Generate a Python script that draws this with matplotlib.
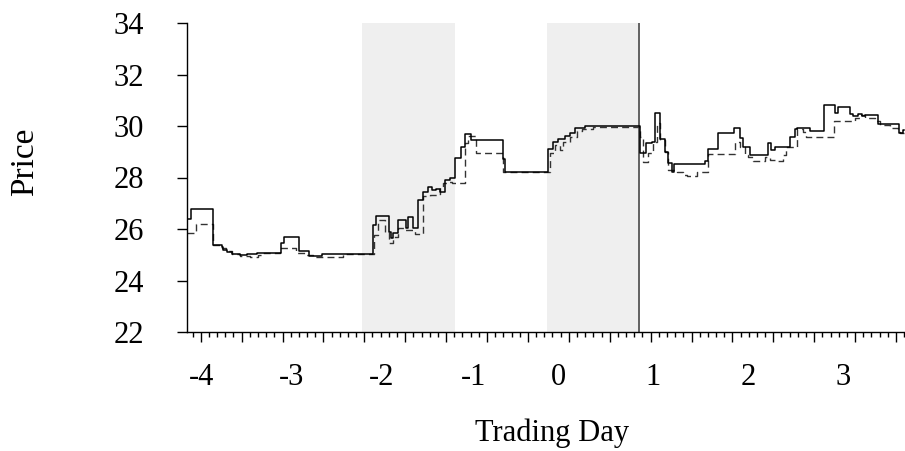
import matplotlib
matplotlib.use("Agg")
import matplotlib.pyplot as plt
from matplotlib.ticker import MultipleLocator

# x in hours of trading time (one major tick per hour)
solid_x = [-0.33, -0.24, 0.31, 0.51, 0.55, 0.64, 0.77, 0.96, 1.12, 1.37, 1.96, 2.04, 2.41, 2.66, 2.96,
           4.21, 4.29, 4.61, 4.65, 4.70, 4.83, 5.02, 5.08, 5.20, 5.32, 5.43, 5.56, 5.65, 5.75, 5.85,
           5.97, 6.10, 6.22, 6.36, 6.46, 6.60, 7.38, 7.44, 8.50, 8.62, 8.74, 8.91, 9.03, 9.15, 9.40,
           10.74, 10.89, 11.03, 11.11, 11.23, 11.35, 11.43, 11.52, 11.56, 12.33, 12.41, 12.66, 13.04,
           13.19, 13.25, 13.43, 13.88, 13.94, 14.04, 14.41, 14.53, 14.57, 14.90, 15.24, 15.51, 15.57,
           15.88, 15.96, 16.08, 16.16, 16.24, 16.57, 17.08, 17.17, 17.20]
solid_y = [26.38, 26.76, 25.38, 25.31, 25.18, 25.12, 25.04, 24.99, 25.02, 25.08, 25.47, 25.68, 25.14, 24.95, 25.02,
           26.16, 26.50, 25.90, 25.64, 25.85, 26.35, 26.03, 26.48, 26.03, 27.13, 27.45, 27.64, 27.50, 27.57, 27.45,
           27.90, 28.00, 28.74, 29.20, 29.69, 29.46, 28.70, 28.22, 29.10, 29.39, 29.50, 29.60, 29.74, 29.91, 30.00,
           28.94, 29.33, 29.39, 30.49, 29.50, 29.00, 28.55, 28.23, 28.52, 28.64, 29.10, 29.71, 29.91,
           29.52, 29.20, 28.87, 29.35, 29.07, 29.17, 29.59, 29.87, 29.91, 29.82, 30.82, 30.49, 30.75,
           30.47, 30.40, 30.47, 30.40, 30.43, 30.08, 29.71, 29.85, 29.85]

dashed_x = [-0.33, -0.11, 0.31, 0.52, 0.62, 0.77, 0.96, 1.21, 1.40, 1.50, 1.94, 2.33, 2.55, 2.75, 3.48,
            4.23, 4.34, 4.51, 4.61, 4.71, 4.83, 5.00, 5.24, 5.43, 5.60, 5.78, 5.85, 5.92, 6.07, 6.14,
            6.46, 6.54, 6.73, 7.38, 8.54, 8.66, 8.78, 8.85, 9.03, 9.19, 9.32, 9.59, 10.74, 10.81,
            10.94, 11.06, 11.15, 11.23, 11.35, 11.43, 11.64, 11.80, 11.88, 12.13, 12.41, 13.06, 13.19,
            13.31, 13.39, 13.50, 13.80, 13.92, 14.04, 14.24, 14.31, 14.59, 14.73, 14.81, 15.48, 16.00,
            16.12, 16.24, 16.49, 16.61, 16.85, 17.06, 17.10, 17.20]
dashed_y = [25.86, 26.19, 25.38, 25.28, 25.15, 25.02, 24.95, 24.93, 25.00, 25.05, 25.25, 25.06, 24.98, 24.92, 25.02,
            25.77, 26.35, 25.90, 25.47, 25.70, 26.03, 25.97, 25.79, 27.28, 27.32, 27.36, 27.64, 27.80, 27.84, 27.80,
            29.33, 29.60, 28.96, 28.22, 28.94, 29.26, 29.07, 29.39, 29.59, 29.82, 29.90, 29.97, 29.59, 28.60,
            28.94, 29.39, 30.10, 29.46, 29.00, 28.30, 28.23, 28.10, 28.06, 28.23, 28.91, 29.39, 29.20,
            28.87, 28.81, 28.64, 28.80, 28.69, 28.65, 28.87, 29.17, 29.87, 29.78, 29.56, 30.21, 30.30,
            30.43, 30.30, 30.21, 30.04, 29.91, 29.78, 29.71, 29.71]

shade_spans = [(3.94, 6.22), (8.47, 10.70)]
event_x = 10.72

day_label_pos = [0.03, 2.23, 4.43, 6.66, 8.74, 11.06, 13.38, 15.70]
day_labels = ["-4", "-3", "-2", "-1", "0", "1", "2", "3"]

plt.rcParams['font.family'] = ['Liberation Serif', 'DejaVu Serif']

fig = plt.figure(figsize=(9.05, 4.51), dpi=100)
ax = fig.add_axes([187/905, 119/451, 718/905, 309/451])

for a, b in shade_spans:
    ax.axvspan(a, b, color='#efefef', lw=0, zorder=0)
ax.axvline(event_x, color='#555555', lw=1.3, zorder=1)

ax.plot(dashed_x, dashed_y, drawstyle='steps-post', color='#333333', lw=1.0,
        dashes=(5, 3), zorder=2)
ax.plot(solid_x, solid_y, drawstyle='steps-post', color='black', lw=1.1, zorder=3)

ax.set_xlim(-0.335, 17.22)
ax.set_ylim(22, 34)
ax.set_yticks(range(22, 35, 2))
ax.xaxis.set_major_locator(MultipleLocator(1))
ax.xaxis.set_minor_locator(MultipleLocator(0.2))
ax.tick_params(axis='x', which='major', length=7.2, width=1.0, labelbottom=False)
ax.tick_params(axis='x', which='minor', length=3.6, width=1.0)
ax.tick_params(axis='y', which='major', length=7.2, width=1.0, labelsize=22, pad=24)

for s in ['top', 'right']:
    ax.spines[s].set_visible(False)
for s in ['left', 'bottom']:
    ax.spines[s].set_linewidth(1.0)

sec = ax.secondary_xaxis('bottom')
sec.set_xticks(day_label_pos)
sec.set_xticklabels(day_labels)
sec.tick_params(length=0, labelsize=22, pad=22)
sec.spines['bottom'].set_visible(False)

ax.set_ylabel('Price', fontsize=24, va='center')
ax.yaxis.set_label_coords(-0.2256, 0.55)
ax.set_xlabel('Trading Day', fontsize=22, va='center')
ax.xaxis.set_label_coords(0.508, -0.3285)

fig.savefig('out.png', dpi=100)
